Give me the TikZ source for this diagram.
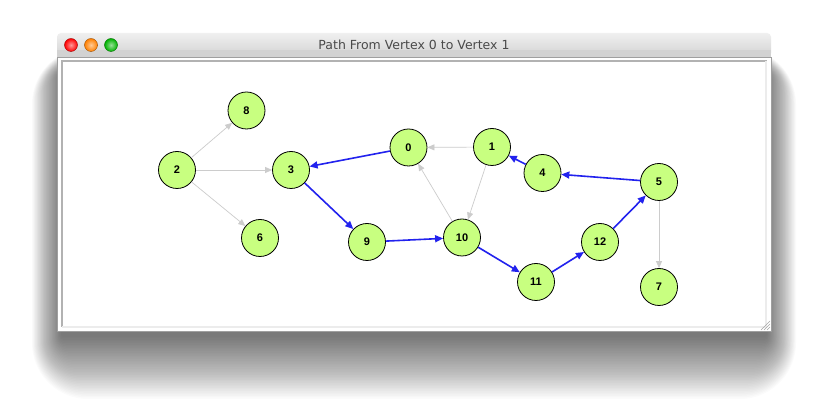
\documentclass[tikz,border=0pt]{standalone}
\usepackage{fontspec}
\setmainfont{Liberation Sans}
\newfontfamily\titlefont{DejaVu Sans}
\usetikzlibrary{arrows.meta}

\definecolor{vertexgreen}{HTML}{C8FF80}
\definecolor{pathblue}{HTML}{2222EE}
\definecolor{edgegray}{HTML}{CCCCCC}
\definecolor{titlegray}{HTML}{4A4A4A}

\tikzset{
  vertex/.style={circle, draw=black, line width=0.8pt, fill=vertexgreen, minimum size=37pt,
    inner sep=0pt, font=\fontsize{11}{11}\selectfont\bfseries},
  pathedge/.style={-{Triangle[length=8pt,width=7pt]}, draw=pathblue, line width=1.6pt},
  plainedge/.style={-{Triangle[length=7pt,width=6pt]}, draw=edgegray, line width=0.7pt},
  light/.style={circle, minimum size=13pt, inner sep=0pt, draw=#1!60!black, line width=0.4pt,
    inner color=#1!40, outer color=#1},
}

\begin{document}
\begin{tikzpicture}[x=1pt, y=-1pt]
\useasboundingbox (0,0) rectangle (828,411);
\fill[white] (0,0) rectangle (828,411);

% window shadow
\foreach \i in {1,...,40}
  \fill[black, opacity=0.016, rounded corners=1.4*\i]
    (62-0.75*\i, 72-0.6*\i) rectangle (766+0.75*\i, 335+1.6*\i);

% window frame
\fill[white] (57,33) rectangle (771,331);
\shade[top color=gray!12, bottom color=gray!35, rounded corners=4pt]
  (57,33) rectangle (771,57);
\fill[gray!35] (57,50) rectangle (771,57);
\draw[gray!70, line width=0.6pt] (57,57) -- (771,57);
\draw[gray!75, line width=0.6pt] (57,57) rectangle (771,331);
\draw[gray!60, line width=1.8pt] (62,327) -- (62,61) -- (767,61);
\draw[gray!15, line width=1.8pt] (62,327) -- (766,327) -- (766,61);

\node[light=red] (close) at (71,45) {};
\node[light=orange] (minimize) at (91,45) {};
\node[light=green!70!black] (zoom) at (111,45) {};
\node[text=titlegray, font=\titlefont\fontsize{12.5}{12.5}\selectfont] (title) at (414,45)
  {Path From Vertex 0 to Vertex 1};

% resize grip
\foreach \d in {3,6,9}
  \draw[gray!70, line width=0.5pt] (770-\d,330) -- (770,330-\d);

% vertices
\node[vertex] (v8) at (246.5,110.5) {8};
\node[vertex] (v2) at (177,170) {2};
\node[vertex] (v3) at (291,170) {3};
\node[vertex] (v6) at (260,238) {6};
\node[vertex] (v0) at (408.5,147.5) {0};
\node[vertex] (v1) at (492,147) {1};
\node[vertex] (v4) at (542.5,173) {4};
\node[vertex] (v5) at (659,182) {5};
\node[vertex] (v9) at (367,242) {9};
\node[vertex] (v10) at (462,237.5) {10};
\node[vertex] (v11) at (536,282) {11};
\node[vertex] (v12) at (600,242) {12};
\node[vertex] (v7) at (659,287) {7};

% other edges
\draw[plainedge] (v2) -- (v8);
\draw[plainedge] (v2) -- (v3);
\draw[plainedge] (v2) -- (v6);
\draw[plainedge] (v1) -- (v0);
\draw[plainedge] (v1) -- (v10);
\draw[plainedge] (v10) -- (v0);
\draw[plainedge] (v5) -- (v7);

% path edges
\draw[pathedge] (v0) -- (v3);
\draw[pathedge] (v3) -- (v9);
\draw[pathedge] (v9) -- (v10);
\draw[pathedge] (v10) -- (v11);
\draw[pathedge] (v11) -- (v12);
\draw[pathedge] (v12) -- (v5);
\draw[pathedge] (v5) -- (v4);
\draw[pathedge] (v4) -- (v1);
\end{tikzpicture}
\end{document}
